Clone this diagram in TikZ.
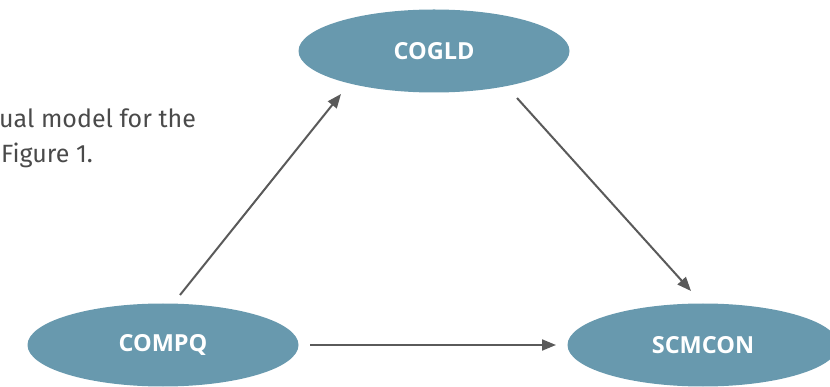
\documentclass[tikz,border=0pt]{standalone}
\usepackage{fontspec}
\setmainfont{Fira Sans}
\newfontfamily\labfont{Open Sans}
\usetikzlibrary{shapes.geometric,arrows.meta}
\definecolor{ellfill}{HTML}{6899AE}
\definecolor{arrgray}{HTML}{5A5A5A}
\definecolor{captgray}{HTML}{4A4A4A}
\tikzset{
  var/.style={ellipse, fill=ellfill, draw=none, minimum width=271pt, minimum height=83pt, inner sep=0pt,
    text=white, font=\labfont\bfseries\fontsize{23.5}{26}\selectfont},
  conn/.style={draw=arrgray, line width=2pt, -{Triangle[length=14pt,width=11pt]}},
  capt/.style={anchor=base west, inner sep=0pt, text=captgray, font=\fontsize{25}{28}\selectfont}
}
\begin{document}
\begin{tikzpicture}[x=1pt,y=-1pt]
\useasboundingbox (0,0) rectangle (830,387);
\node[var] (cogld) at (434,51) {COGLD};
\node[var] (compq) at (163,345) {COMPQ};
\node[var] (scmcon) at (703,345) {SCMCON};
\node[capt] (c1) at (-1,128) {ual model for the};
\node[capt] (c2) at (1,163) {Figure 1.};
\coordinate (a1s) at (180,295);
\coordinate (a1e) at (341,94);
\coordinate (a2s) at (517,98);
\coordinate (a2e) at (691,291);
\coordinate (a3s) at (310,345);
\coordinate (a3e) at (556,345);
\draw[conn] (a1s) -- (a1e);
\draw[conn] (a2s) -- (a2e);
\draw[conn] (a3s) -- (a3e);
\end{tikzpicture}
\end{document}
